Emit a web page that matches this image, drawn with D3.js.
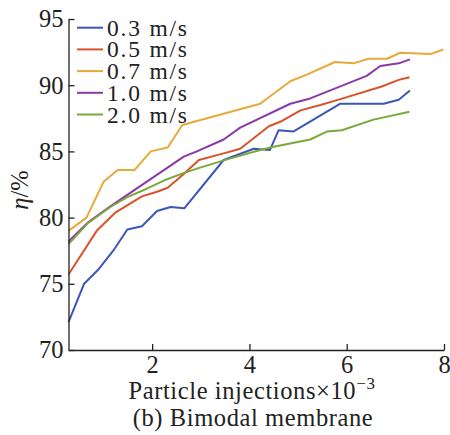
<!DOCTYPE html>
<html>
<head>
<meta charset="utf-8">
<script src="https://cdn.jsdelivr.net/npm/d3@7"></script>
<style>
  body { margin: 0; background: #fff; }
</style>
</head>
<body>
<svg id="chart" width="450" height="435" font-family="Liberation Serif, serif"></svg>
<script>
// series (x in thousands of injections, η in %)
const speeds = ["0.3 m/s", "0.5 m/s", "0.7 m/s", "1.0 m/s", "2.0 m/s"];
const colors = ["#3b56b8", "#d9532a", "#e8a93a", "#8a3aa8", "#7aa83a"];

const x03 = [0.28, 0.6, 0.9, 1.2, 1.49, 1.79, 2.1, 2.38, 2.66, 3.47, 4.09, 4.42, 4.6, 4.9, 5.87, 6.76, 7.07, 7.3];
const y03 = [72.1, 75.0, 76.1, 77.5, 79.1, 79.35, 80.5, 80.8, 80.7, 84.35, 85.2, 85.1, 86.6, 86.5, 88.6, 88.6, 88.9, 89.6];

const x05 = [0.28, 0.86, 1.25, 1.79, 2.1, 2.32, 2.65, 2.96, 3.47, 3.81, 4.4, 4.67, 5.05, 5.46, 5.87, 6.72, 7.07, 7.29];
const y05 = [75.7, 79.0, 80.4, 81.6, 81.95, 82.25, 83.3, 84.35, 84.85, 85.2, 86.9, 87.3, 88.1, 88.5, 88.95, 89.9, 90.4, 90.6];

const x07 = [0.28, 0.65, 1.0, 1.29, 1.64, 1.97, 2.32, 2.62, 4.22, 4.84, 5.18, 5.76, 6.14, 6.45, 6.83, 7.1, 7.72, 7.99];
const y07 = [79.0, 80.0, 82.7, 83.6, 83.6, 85.0, 85.3, 87.0, 88.6, 90.3, 90.8, 91.75, 91.65, 92.0, 92.0, 92.45, 92.35, 92.7];

const x10 = [0.28, 0.67, 1.14, 2.65, 2.92, 3.47, 3.81, 4.84, 5.25, 6.41, 6.69, 7.07, 7.3];
const y10 = [78.2, 79.6, 80.85, 84.6, 85.0, 85.9, 86.8, 88.6, 89.0, 90.7, 91.45, 91.65, 91.95];

const x20 = [0.28, 0.67, 1.14, 1.49, 1.9, 2.24, 2.6, 2.92, 3.54, 4.22, 4.5, 5.25, 5.59, 5.9, 6.55, 7.29];
const y20 = [78.0, 79.55, 80.8, 81.55, 82.2, 82.8, 83.3, 83.7, 84.4, 85.1, 85.35, 85.9, 86.5, 86.6, 87.4, 88.0];

const xTicks = [2, 4, 6, 8];
const yTicks = [70, 75, 80, 85, 90, 95];

const seriesX = [x03, x05, x07, x10, x20];
const seriesY = [y03, y05, y07, y10, y20];

const margin = { top: 19, right: 6, bottom: 85, left: 68.5 };
const width = 450, height = 435;
const font = "'Liberation Serif', serif";
const fontSize = "24.5px";

const svg = d3.select("#chart");

const x = d3.scaleLinear()
  .domain([0.28, 8])
  .range([margin.left, width - margin.right]);

const y = d3.scaleLinear()
  .domain([70, 95])
  .range([height - margin.bottom, margin.top]);

const line = d3.line()
  .x(d => x(d[0]))
  .y(d => y(d[1]));

// lines first so the axes sit on top
seriesX.forEach((xs, i) => {
  const pts = xs.map((v, j) => [v, seriesY[i][j]]);
  svg.append("path")
    .datum(pts)
    .attr("fill", "none")
    .attr("stroke", colors[i])
    .attr("stroke-width", 2)
    .attr("stroke-linejoin", "round")
    .attr("d", line);
});

// axes, ticks pointing inward
const xAxis = svg.append("g")
  .attr("transform", `translate(0,${height - margin.bottom})`)
  .call(d3.axisBottom(x).tickValues(xTicks).tickSizeInner(-6).tickSizeOuter(0).tickPadding(6));

const yAxis = svg.append("g")
  .attr("transform", `translate(${margin.left},0)`)
  .call(d3.axisLeft(y).tickValues(yTicks).tickSizeInner(-6).tickSizeOuter(0).tickPadding(5));

[xAxis, yAxis].forEach(g => {
  g.attr("font-family", null).attr("font-size", null);
  g.selectAll("path, line").attr("stroke", "#222").attr("stroke-width", 1.3);
  g.selectAll("text")
    .style("font-family", font)
    .style("font-size", fontSize)
    .attr("fill", "#222");
});

const label = (xp, yp) => svg.append("text")
  .attr("x", xp)
  .attr("y", yp)
  .attr("fill", "#222")
  .style("font-family", font)
  .style("font-size", fontSize);

// axis titles
const xTitle = label(252, 399)
  .attr("text-anchor", "middle")
  .style("letter-spacing", "0.6px")
  .text("Particle injections×10");
xTitle.append("tspan")
  .attr("dy", -10)
  .style("font-size", "17px")
  .text("−3");

label(253, 426)
  .attr("text-anchor", "middle")
  .style("letter-spacing", "0.6px")
  .text("(b) Bimodal membrane");

label(0, 0)
  .attr("transform", "translate(28,190) rotate(-90)")
  .attr("text-anchor", "middle")
  .html('<tspan font-style="italic">η</tspan>/%');

// legend
speeds.forEach((s, i) => {
  const ly = 27.7 + i * 21.7;
  svg.append("line")
    .attr("x1", 77).attr("x2", 103)
    .attr("y1", ly).attr("y2", ly)
    .attr("stroke", colors[i])
    .attr("stroke-width", 2);
  label(107, ly + 8)
    .style("font-size", "23.5px")
    .attr("textLength", 80)
    .attr("lengthAdjust", "spacing")
    .text(s);
});
</script>
</body>
</html>
